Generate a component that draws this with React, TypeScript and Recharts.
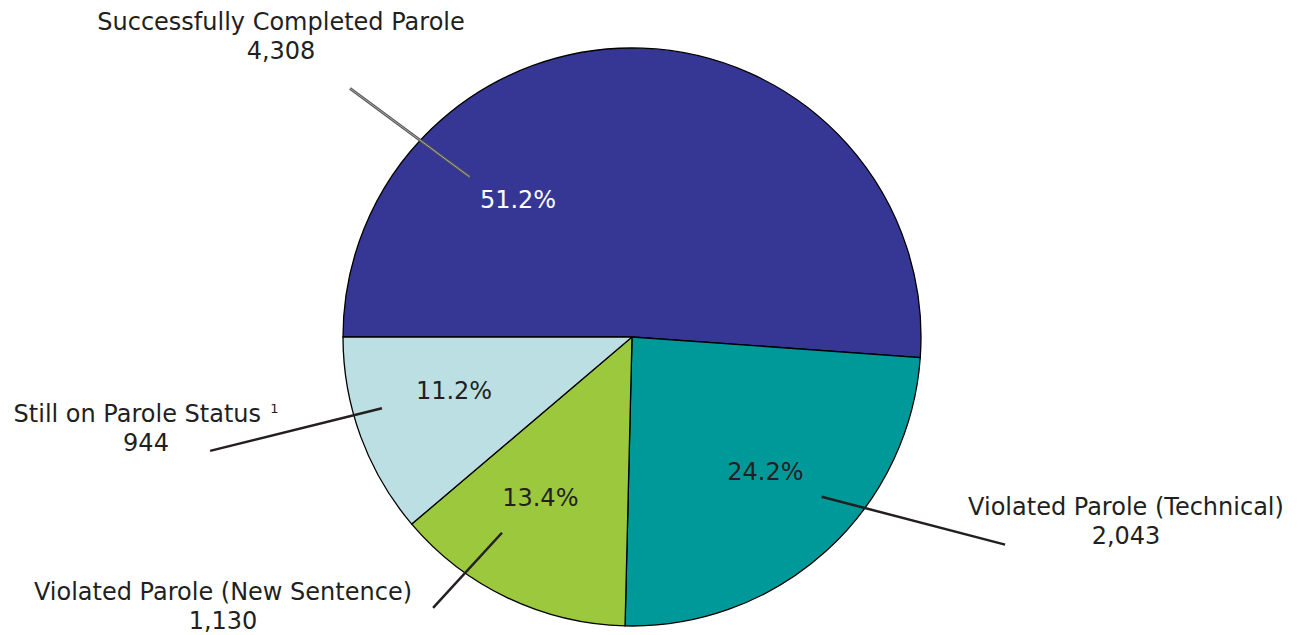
import React from 'react';
import { PieChart, Pie, Cell } from 'recharts';

const categories = [
  'Successfully Completed Parole',
  'Violated Parole (Technical)',
  'Violated Parole (New Sentence)',
  'Still on Parole Status',
];
const counts = [4308, 2043, 1130, 944];
const percentLabels = ['51.2%', '24.2%', '13.4%', '11.2%'];
const footnotes = ['', '', '', '1'];

const COLORS = ['#363795', '#009999', '#9bc83c', '#bcdfe3'];
const PCT_COLORS = ['#ffffff', '#231f20', '#231f20', '#231f20'];

// label layout (polar: angle in degrees, radius in px from pie centre)
const LAYOUT = [
  { pct: [129.8, 178], l1: [135.4, 228], l2: [138.6, 376], tx: -351, ty: -307, gray: true },
  { pct: [-45.4, 190], l1: [-40.1, 248], l2: [-29.1, 427], tx: 494, ty: 178, gray: false },
  { pct: [-119.7, 185], l1: [-123.6, 235], l2: [-126.3, 336], tx: -409, ty: 263, gray: false },
  { pct: [-163.1, 186], l1: [-164.1, 260], l2: [-164.9, 437], tx: -486, ty: 85, gray: false },
];

const data = categories.map((name, i) => ({
  name,
  value: counts[i],
  pct: percentLabels[i],
  note: footnotes[i],
}));

const FONT = '"DejaVu Sans", Verdana, sans-serif';
const FS = 24;

const polar = (cx: number, cy: number, a: number, r: number) => ({
  x: cx + r * Math.cos((a * Math.PI) / 180),
  y: cy - r * Math.sin((a * Math.PI) / 180),
});

const renderLabel = (props: any) => {
  const { cx, cy, index } = props;
  const L = LAYOUT[index];
  const d = data[index];
  const p = polar(cx, cy, L.pct[0], L.pct[1]);
  const a = polar(cx, cy, L.l1[0], L.l1[1]);
  const b = polar(cx, cy, L.l2[0], L.l2[1]);
  const tx = cx + L.tx;
  const ty = cy + L.ty;
  return (
    <g key={`lbl-${index}`}>
      {L.gray ? (
        <g>
          <line x1={a.x} y1={a.y} x2={b.x} y2={b.y} stroke="#555" strokeWidth={3} />
          <line x1={a.x} y1={a.y} x2={b.x} y2={b.y} stroke="#aaa" strokeWidth={1} />
        </g>
      ) : (
        <line x1={a.x} y1={a.y} x2={b.x} y2={b.y} stroke="#231f20" strokeWidth={2.5} />
      )}
      <text
        x={p.x}
        y={p.y}
        textAnchor="middle"
        dominantBaseline="central"
        fill={PCT_COLORS[index]}
        fontFamily={FONT}
        fontSize={FS}
      >
        {d.pct}
      </text>
      <text x={tx} y={ty} textAnchor="middle" fill="#231f20" fontFamily={FONT} fontSize={FS}>
        {d.name}
        {d.note ? (
          <tspan fontSize={13} dy={-9} dx={5}>
            {' ' + d.note}
          </tspan>
        ) : null}
      </text>
      <text x={tx} y={ty + 29} textAnchor="middle" fill="#231f20" fontFamily={FONT} fontSize={FS}>
        {d.value.toLocaleString('en-US')}
      </text>
    </g>
  );
};

export default function App() {
  return (
    <div style={{ position: 'absolute', left: 0, top: 0, background: '#fff' }}>
      <PieChart width={1304} height={635} margin={{ top: 0, right: 0, bottom: 0, left: 0 }}>
        <Pie
          data={data}
          dataKey="value"
          nameKey="name"
          cx={632}
          cy={337}
          outerRadius={289}
          startAngle={180}
          endAngle={-180}
          stroke="#000"
          strokeWidth={1.3}
          label={renderLabel}
          labelLine={false}
          isAnimationActive={false}
        >
          {data.map((d, i) => (
            <Cell key={d.name} fill={COLORS[i]} />
          ))}
        </Pie>
      </PieChart>
    </div>
  );
}
